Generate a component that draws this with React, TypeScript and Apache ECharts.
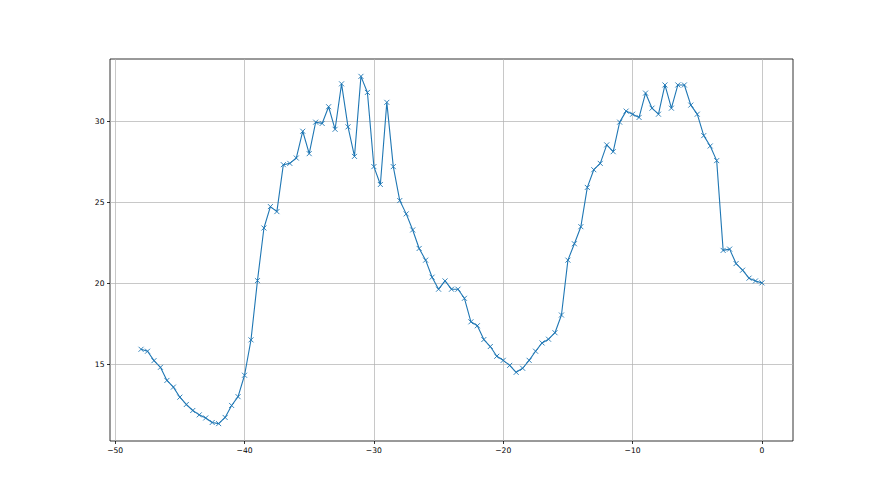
import React, { useEffect, useRef } from "react";
import * as echarts from "echarts";

const xValues: number[] = [
  -48.0, -47.5, -47.0, -46.5, -46.0, -45.5, -45.0, -44.5, -44.0, -43.5,
  -43.0, -42.5, -42.0, -41.5, -41.0, -40.5, -40.0, -39.5, -39.0, -38.5,
  -38.0, -37.5, -37.0, -36.5, -36.0, -35.5, -35.0, -34.5, -34.0, -33.5,
  -33.0, -32.5, -32.0, -31.5, -31.0, -30.5, -30.0, -29.5, -29.0, -28.5,
  -28.0, -27.5, -27.0, -26.5, -26.0, -25.5, -25.0, -24.5, -24.0, -23.5,
  -23.0, -22.5, -22.0, -21.5, -21.0, -20.5, -20.0, -19.5, -19.0, -18.5,
  -18.0, -17.5, -17.0, -16.5, -16.0, -15.5, -15.0, -14.5, -14.0, -13.5,
  -13.0, -12.5, -12.0, -11.5, -11.0, -10.5, -10.0, -9.5, -9.0, -8.5,
  -8.0, -7.5, -7.0, -6.5, -6.0, -5.5, -5.0, -4.5, -4.0, -3.5,
  -3.0, -2.5, -2.0, -1.5, -1.0, -0.5, 0.0,
];

const yValues: number[] = [
  15.95, 15.83, 15.25, 14.84, 14.03, 13.62, 13.0, 12.55, 12.18, 11.91,
  11.72, 11.44, 11.37, 11.75, 12.49, 13.03, 14.35, 16.53, 20.18, 23.42,
  24.74, 24.43, 27.32, 27.4, 27.73, 29.38, 28.0, 29.94, 29.86, 30.89,
  29.5, 32.3, 29.65, 27.83, 32.76, 31.77, 27.2, 26.1, 31.16, 27.2,
  25.11, 24.29, 23.3, 22.16, 21.44, 20.39, 19.65, 20.16, 19.65, 19.65,
  19.09, 17.64, 17.4, 16.55, 16.12, 15.52, 15.27, 14.96, 14.53, 14.78,
  15.27, 15.83, 16.34, 16.57, 16.97, 18.06, 21.44, 22.45, 23.5, 25.92,
  27.01, 27.4, 28.54, 28.12, 29.94, 30.62, 30.43, 30.23, 31.73, 30.8,
  30.43, 32.23, 30.8, 32.23, 32.23, 30.99, 30.43, 29.11, 28.47, 27.57,
  22.04, 22.12, 21.23, 20.82, 20.33, 20.16, 20.04,
];

const xTicks: number[] = [-50, -40, -30, -20, -10, 0];
const yTicks: number[] = [15, 20, 25, 30];

const FONT = "DejaVu Sans";
const BLUE = "#1f77b4";

export default function App() {
  const ref = useRef<HTMLDivElement>(null);

  useEffect(() => {
    if (!ref.current) return;
    const chart = echarts.init(ref.current, undefined, { renderer: "svg" });

    const xMinD = Math.min(...xValues);
    const xMaxD = Math.max(...xValues);
    const yMinD = Math.min(...yValues);
    const yMaxD = Math.max(...yValues);
    const xr = xMaxD - xMinD;
    const yr = yMaxD - yMinD;

    const fmt = (v: number) => (v < 0 ? "\u2212" + Math.abs(v) : String(v));

    const axisCommon = {
      type: "value" as const,
      axisLine: { show: false, onZero: false },
      axisTick: {
        show: true,
        length: 3,
        lineStyle: { color: "#000", width: 0.8 },
      },
      axisLabel: {
        color: "#000",
        fontFamily: FONT,
        fontSize: 7.6,
        margin: 5.5,
        formatter: fmt,
        showMinLabel: true,
        showMaxLabel: true,
      },
      splitLine: {
        show: true,
        lineStyle: { color: "#b0b0b0", width: 0.7 },
      },
    };

    chart.setOption({
      animation: false,
      backgroundColor: "#fff",
      grid: {
        left: 110,
        right: 87,
        top: 59,
        bottom: 54,
        show: true,
        borderColor: "#000",
        borderWidth: 0.8,
        backgroundColor: "transparent",
        containLabel: false,
      },
      xAxis: {
        ...axisCommon,
        position: "bottom",
        min: xMinD - 0.05 * xr,
        max: xMaxD + 0.05 * xr,
        axisTick: { ...axisCommon.axisTick, customValues: xTicks },
        axisLabel: { ...axisCommon.axisLabel, customValues: xTicks },
        splitLine: { ...axisCommon.splitLine, customValues: xTicks },
      },
      yAxis: {
        ...axisCommon,
        position: "left",
        min: yMinD - 0.05 * yr,
        max: yMaxD + 0.05 * yr,
        axisTick: { ...axisCommon.axisTick, customValues: yTicks },
        axisLabel: { ...axisCommon.axisLabel, customValues: yTicks },
        splitLine: { ...axisCommon.splitLine, customValues: yTicks },
      },
      series: [
        {
          type: "line",
          data: xValues.map((x, i) => [x, yValues[i]]),
          lineStyle: { color: BLUE, width: 1.1 },
          symbol: "path://M0,0L10,10M10,0L0,10",
          symbolSize: 5,
          showAllSymbol: true,
          itemStyle: { color: BLUE, borderColor: BLUE, borderWidth: 0.9 },
          z: 3,
        },
      ],
    });

    return () => chart.dispose();
  }, []);

  return (
    <div
      ref={ref}
      style={{ position: "fixed", left: 0, top: 0, width: 880, height: 495 }}
    />
  );
}
